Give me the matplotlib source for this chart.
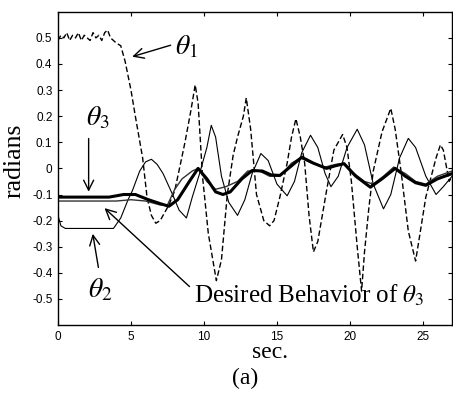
import matplotlib
matplotlib.use('Agg')
import matplotlib.pyplot as plt

# theta_1 (dashed)
t1_t = [0.0, 0.2, 0.4, 0.6, 0.8, 1.0, 1.2, 1.4, 1.6, 1.8, 2.0, 2.2, 2.4, 2.6, 2.8, 3.0, 3.2, 3.4, 3.6, 3.8,
        4.0, 4.3, 4.6, 5.0, 5.3, 5.8, 6.1, 6.4, 6.7, 7.0, 7.2, 7.6, 8.0, 8.4, 8.7, 9.1, 9.4, 9.6, 9.9,
        10.3, 10.85, 11.2, 11.6, 12.0, 12.3, 12.7, 12.9, 13.2, 13.6, 14.1, 14.5, 14.8, 15.2, 15.7, 16.0,
        16.3, 16.6, 16.9, 17.2, 17.5, 17.8, 18.4, 18.9, 19.2, 19.5, 19.8, 20.1, 20.5, 20.8, 21.0, 21.3,
        21.6, 22.2, 22.8, 23.1, 23.5, 24.0, 24.5, 24.8, 25.2, 25.9, 26.2, 26.4, 26.8, 27.0]
t1_y = [0.49, 0.51, 0.50, 0.52, 0.49, 0.51, 0.50, 0.52, 0.49, 0.51, 0.50, 0.49, 0.52, 0.50, 0.51, 0.49, 0.52, 0.53, 0.50, 0.49,
        0.48, 0.47, 0.41, 0.30, 0.20, 0.04, -0.11, -0.18, -0.21, -0.20, -0.18, -0.14, -0.085, 0.02, 0.10, 0.22, 0.32, 0.25, -0.03,
        -0.25, -0.43, -0.35, -0.10, 0.05, 0.12, 0.20, 0.27, 0.15, -0.10, -0.20, -0.22, -0.20, -0.11, 0.02, 0.12,
        0.19, 0.12, 0.02, -0.18, -0.32, -0.28, -0.085, 0.07, 0.10, 0.13, 0.08, -0.05, -0.30, -0.47, -0.32, -0.15,
        -0.01, 0.14, 0.23, 0.15, -0.01, -0.24, -0.355, -0.25, -0.11, 0.04, 0.09, 0.07, -0.05, -0.03]

# theta_2 (thin solid)
t2_t = [0.0, 0.2, 0.5, 3.8, 4.3, 4.8, 5.1, 5.6, 6.0, 6.4, 6.8, 7.2, 7.85, 8.3, 8.8, 9.2, 9.7, 10.2, 10.5, 10.8,
        11.2, 11.7, 12.3, 12.8, 13.3, 13.9, 14.4, 15.0, 15.7, 16.2, 16.7, 17.3, 17.8, 18.3, 18.7, 19.2, 19.8,
        20.5, 21.0, 21.6, 22.3, 22.8, 23.4, 24.0, 24.5, 25.2, 25.9, 26.4, 27.0]
t2_y = [-0.18, -0.22, -0.23, -0.23, -0.19, -0.12, -0.085, -0.01, 0.025, 0.035, 0.015, -0.02, -0.10, -0.16, -0.19, -0.11, -0.02, 0.08, 0.165, 0.12,
        -0.03, -0.13, -0.18, -0.12, -0.02, 0.057, 0.03, -0.06, -0.105, -0.05, 0.06, 0.127, 0.08, -0.02, -0.07, -0.03, 0.08,
        0.15, 0.09, -0.06, -0.155, -0.10, 0.04, 0.115, 0.08, -0.03, -0.10, -0.07, -0.03]

# theta_3 (thick solid)
t3_t = [0.0, 3.5, 4.5, 5.3, 6.2, 7.0, 7.6, 8.2, 9.0, 9.6, 10.2, 10.8, 11.3, 11.8, 12.6, 13.3, 14.0, 14.6, 15.2,
        16.0, 16.7, 17.5, 18.4, 19.0, 19.6, 20.4, 21.4, 22.2, 23.1, 23.8, 24.5, 25.2, 26.0, 27.0]
t3_y = [-0.11, -0.11, -0.10, -0.10, -0.12, -0.135, -0.145, -0.12, -0.05, 0.0, -0.04, -0.09, -0.10, -0.09, -0.04, -0.008, -0.01, -0.025, -0.027,
        0.01, 0.043, 0.02, 0.0, 0.01, 0.018, -0.03, -0.072, -0.04, 0.0, -0.03, -0.055, -0.065, -0.04, -0.02]

# desired behaviour of theta_3
d3_t = [0.0, 4.0, 5.0, 6.0, 7.0, 7.5, 8.0, 8.5, 9.2, 9.6, 10.2, 10.8, 11.5, 12.3, 13.0, 13.8, 14.5, 15.2,
        16.0, 16.6, 17.4, 18.3, 19.0, 19.6, 20.3, 21.0, 21.6, 22.3, 23.0, 23.8, 24.5, 25.2, 26.0, 27.0]
d3_y = [-0.125, -0.125, -0.12, -0.125, -0.14, -0.14, -0.08, -0.04, -0.01, 0.0, -0.05, -0.08, -0.07, -0.05, -0.01, -0.01, -0.03, -0.03,
        0.02, 0.04, 0.02, 0.005, 0.015, 0.02, -0.02, -0.05, -0.06, -0.03, 0.005, -0.02, -0.05, -0.06, -0.03, -0.01]

xticks = [0, 5, 10, 15, 20, 25]
yticks = [0.5, 0.4, 0.3, 0.2, 0.1, 0, -0.1, -0.2, -0.3, -0.4, -0.5]
ytick_l = ['0.5', '0.4', '0.3', '0.2', '0.1', '0', '-0.1', '-0.2', '-0.3', '-0.4', '-0.5']

plt.rcParams['mathtext.fontset'] = 'stix'
serif = 'Liberation Serif'

fig = plt.figure(figsize=(4.53, 3.93), dpi=100)
ax = fig.add_axes([0.128, 0.173, 0.87, 0.797])

ax.plot(t1_t, t1_y, color='black', lw=1.0, dashes=(4, 2))
ax.plot(t2_t, t2_y, color='black', lw=0.8)
ax.plot(d3_t, d3_y, color='#333333', lw=1.0)
ax.plot(t3_t, t3_y, color='black', lw=2.2)

ax.set_xlim(0, 27)
ax.set_ylim(-0.6, 0.6)
ax.set_xticks(xticks)
ax.set_yticks(yticks)
ax.set_yticklabels(ytick_l)
ax.tick_params(direction='in', top=True, right=True, length=3, width=0.8, labelsize=8.5, pad=4)
for lab in ax.get_xticklabels() + ax.get_yticklabels():
  lab.set_family('Liberation Sans')
for sp in ax.spines.values():
  sp.set_linewidth(1.0)

ap = dict(arrowstyle='->', color='black', lw=1.0, mutation_scale=18)
ax.annotate('', xy=(4.9, 0.425), xytext=(7.9, 0.475), arrowprops=ap)
ax.text(8.0, 0.468, r'$\theta_\mathit{1}$', fontsize=20, va='center', ha='left')
ax.text(2.7, 0.197, r'$\theta_\mathit{3}$', fontsize=20, va='center', ha='center')
ax.annotate('', xy=(2.1, -0.1), xytext=(2.1, 0.125), arrowprops=ap)
ax.text(2.9, -0.465, r'$\theta_2$', fontsize=20, va='center', ha='center')
ax.annotate('', xy=(2.35, -0.24), xytext=(2.8, -0.39), arrowprops=ap)
ax.annotate('', xy=(3.05, -0.145), xytext=(9.15, -0.46), arrowprops=ap)
ax.text(9.3, -0.488, r'Desired Behavior of $\theta_\mathit{3}$', fontsize=18, family=serif, va='center', ha='left')

fig.text(0.033, 0.59, 'radians', rotation=90, fontsize=18.5, family=serif, ha='center', va='center')
fig.text(0.597, 0.104, 'sec.', fontsize=17, family=serif, ha='center', va='center')
fig.text(0.542, 0.038, '(a)', fontsize=17, family=serif, ha='center', va='center')

plt.savefig('out.png', dpi=100)
plt.close()
